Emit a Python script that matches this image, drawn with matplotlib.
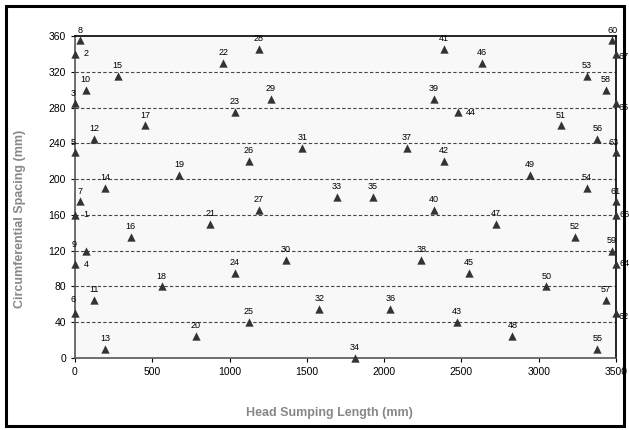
import matplotlib
matplotlib.use("Agg")
import matplotlib.pyplot as plt
from matplotlib.patches import Rectangle

plt.rcParams["font.family"] = ["Liberation Sans", "DejaVu Sans"]

# ── data ──────────────────────────────────────────────────────────────────────
point_ids = list(range(1, 68))
x_mm = [0, 0, 0, 0, 0, 0, 30, 30, 70, 70,
        125, 125, 195, 195, 275, 360, 455, 560, 675, 780,
        875, 960, 1035, 1035, 1125, 1125, 1190, 1190, 1265, 1365,
        1470, 1580, 1695, 1810, 1925, 2040, 2145, 2240, 2320, 2320,
        2385, 2385, 2470, 2475, 2550, 2630, 2725, 2830, 2945, 3050,
        3145, 3235, 3310, 3310, 3380, 3380, 3435, 3435, 3475, 3475,
        3500, 3500, 3500, 3500, 3500, 3500, 3500]
y_mm = [160, 340, 285, 105, 230, 50, 175, 355, 120, 300,
        65, 245, 10, 190, 315, 135, 260, 80, 205, 25,
        150, 330, 275, 95, 40, 220, 165, 345, 290, 110,
        235, 55, 180, 0, 180, 55, 235, 110, 290, 165,
        345, 220, 40, 275, 95, 330, 150, 25, 205, 80,
        260, 135, 315, 190, 10, 245, 65, 300, 120, 355,
        175, 50, 230, 105, 285, 160, 340]

x_ticks = [0, 500, 1000, 1500, 2000, 2500, 3000, 3500]
y_ticks = [0, 40, 80, 120, 160, 200, 240, 280, 320, 360]

# label placement: default centred above the marker; these go elsewhere
# (offsets in points, ha)
RIGHT = (6.0, 0.0, "left")
label_pos = {
    1: RIGHT, 2: RIGHT, 4: RIGHT, 44: RIGHT,
    62: (2.0, -2.5, "left"), 64: (2.5, 0.5, "left"), 65: (2.0, -3.0, "left"),
    66: (2.5, 0.5, "left"), 67: (1.5, -2.0, "left"),
    3: (-1.5, 7.0, "center"), 5: (-1.5, 7.0, "center"), 6: (-1.5, 10.0, "center"),
    9: (-8.5, 4.5, "center"), 63: (-2.0, 7.0, "center"),
}

# ── figure ────────────────────────────────────────────────────────────────────
fig = plt.figure(figsize=(6.29, 4.30), dpi=100)
fig.patch.set_facecolor("white")
ax = fig.add_axes([75 / 629, 72 / 430, 541 / 629, 322 / 430])
ax.set_facecolor("#f8f8f8")

for yv in y_ticks[1:-1]:
    ax.axhline(yv, color="#444444", lw=0.8, ls=(0, (3, 2)), zorder=1)

ax.scatter(x_mm, y_mm, marker="^", s=36, c="#333333", linewidths=0,
           zorder=3, clip_on=False)

for pid, xv, yv in zip(point_ids, x_mm, y_mm):
    dx, dy, ha = label_pos.get(pid, (0.0, 7.5, "center"))
    ax.annotate(str(pid), (xv, yv), xytext=(dx, dy), textcoords="offset points",
                ha=ha, va="center", fontsize=6.5, color="black", zorder=4,
                annotation_clip=False)

ax.set_xlim(0, 3500)
ax.set_ylim(0, 360)
ax.set_xticks(x_ticks)
ax.set_yticks(y_ticks)
ax.tick_params(labelsize=7.5, length=3, width=0.8, colors="black")

for side in ("left", "bottom"):
    ax.spines[side].set_color("#555555")
    ax.spines[side].set_linewidth(1.2)
for side in ("top", "right"):
    ax.spines[side].set_color("black")
    ax.spines[side].set_linewidth(1.2)

ax.set_xlabel("Head Sumping Length (mm)", fontsize=9, fontweight="bold",
              color="#888888")
ax.set_ylabel("Circumferential Spacing (mm)", fontsize=9, fontweight="bold",
              color="#888888")
ax.xaxis.set_label_coords(0.471, -0.172)
ax.yaxis.set_label_coords(-0.102, 0.431)
ax.xaxis.label.set_va("center")
ax.yaxis.label.set_va("center")

# outer chart border
fig.patches.append(Rectangle((6 / 629, 4 / 430), 618 / 629, 420 / 430,
                             transform=fig.transFigure, fill=False,
                             edgecolor="black", lw=2.2))

fig.savefig("out.png", dpi=100)
